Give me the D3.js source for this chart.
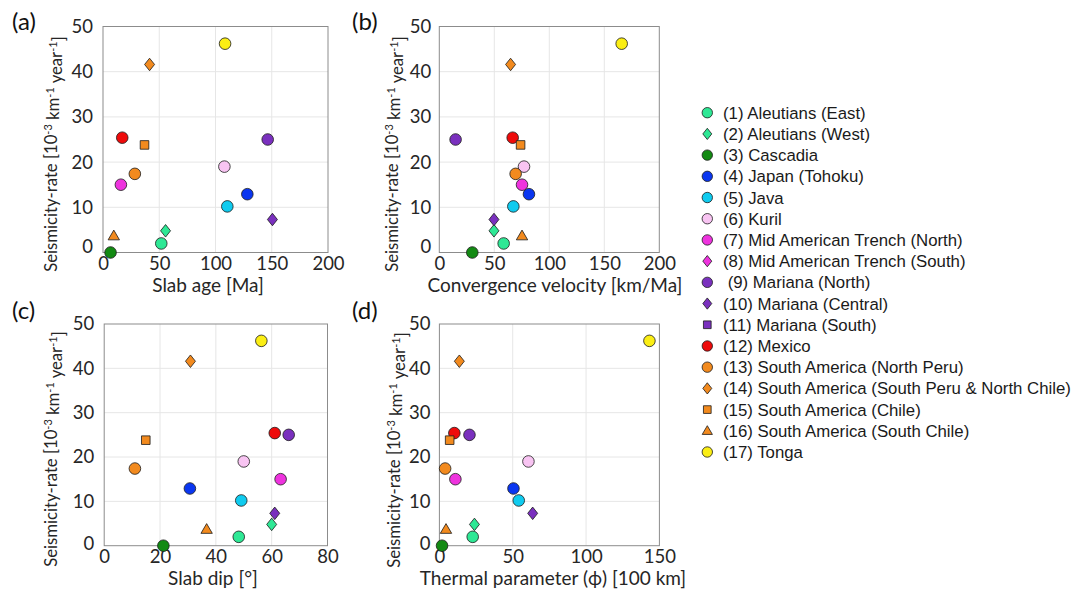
<!DOCTYPE html>
<html><head><meta charset="utf-8">
<script src="https://cdn.jsdelivr.net/npm/d3@7"></script>
<style>
body{margin:0;background:#fff;}
svg{display:block;}
</style></head>
<body>
<svg id="chart" width="1087" height="594"></svg>
<script>
// ---------------- DATA ----------------
const regions = ["(1) Aleutians (East)","(2) Aleutians (West)","(3) Cascadia","(4) Japan (Tohoku)","(5) Java","(6) Kuril",
 "(7) Mid American Trench (North)","(8) Mid American Trench (South)"," (9) Mariana (North)","(10) Mariana (Central)",
 "(11) Mariana (South)","(12) Mexico","(13) South America (North Peru)","(14) South America (South Peru & North Chile)",
 "(15) South America (Chile)","(16) South America (South Chile)","(17) Tonga"];
const shapes = ["circle","diamond","circle","circle","circle","circle","circle","diamond","circle","diamond",
 "square","circle","circle","diamond","square","triangle","circle"];
const colors = ["#2ee895","#2ee895","#138a13","#0a36f0","#0fcbef","#f8c4f2","#ee33de","#ee33de","#7a30be","#7a30be",
 "#7a30be","#ee0b0b","#f28a1e","#f28a1e","#f28a1e","#f28a1e","#fbee14"];
// seismicity rate [1e-3 km^-1 yr^-1]; null = not plotted
const seismicityRate = [2.0,4.8,0.0,12.9,10.2,19.0,15.0,null,25.0,7.3,null,25.4,17.4,41.6,23.8,3.7,46.2];
const slabAge        = [51.8,55.6,6.7,128.3,110.5,107.9,15.9,null,146.4,150.6,null,17.1,28.3,41.4,36.9,9.6,108.5];
const convVelocity   = [58.5,49.7,30.0,81.5,67.3,77.0,75.2,null,14.8,49.7,null,66.7,69.4,64.8,73.9,75.2,165.8];
const slabDip        = [48.2,60.0,21.2,30.7,49.1,50.0,63.2,null,66.1,61.1,null,61.1,11.0,30.9,14.9,36.7,56.3];
const thermalParam   = [22.7,23.9,1.8,50.5,54.1,60.7,10.9,null,20.5,63.6,null,10.2,3.9,13.6,7.0,4.5,143.2];

const yTicks = [0,10,20,30,40,50];
const slabAgeTicks = [0,50,100,150,200];
const convTicks = [0,50,100,150,200];
const dipTicks = [0,20,40,60,80];
const thermalTicks = [0,50,100,150];

// ---------------- LAYOUT ----------------
const svg = d3.select("#chart");
const tickFont = "Lato, 'Open Sans', sans-serif";
const panels = [
  {tag:"(a)", xv:slabAge, ticks:slabAgeTicks, xd:[0,200], xr:[103,328], yr:[252.5,26.5], xlabel:"Slab age [Ma]",
   xlx:208, tagx:12, tagy:30, ylx:51, yly:154, zeroShift:6, ypad:10},
  {tag:"(b)", xv:convVelocity, ticks:convTicks, xd:[0,200], xr:[439.3,659.3], yr:[252.5,26.5], xlabel:"Convergence velocity [km/Ma]",
   xlx:555, tagx:352, tagy:30, ylx:392, yly:154, zeroShift:6, ypad:8},
  {tag:"(c)", xv:slabDip, ticks:dipTicks, xd:[0,80], xr:[104.2,327.5], yr:[545.7,324], xlabel:"Slab dip [°]",
   xlx:213, tagx:12, tagy:319, ylx:51, yly:449, zeroShift:2.5, ypad:10},
  {tag:"(d)", xv:thermalParam, ticks:thermalTicks, xd:[0,150], xr:[439.4,659.4], yr:[545.7,324], xlabel:"Thermal parameter (ϕ) [100 km]",
   xlx:553, tagx:352, tagy:319, ylx:394, yly:450, zeroShift:2.5, ypad:9}
];

function markerPath(shape, s){
  switch(shape){
    case "circle": return `M${-s},0A${s},${s} 0 1,0 ${s},0A${s},${s} 0 1,0 ${-s},0Z`;
    case "diamond": return `M0,${-s*1.08}L${s*0.86},0L0,${s*1.08}L${-s*0.86},0Z`;
    case "square": { const h=s*0.74; return `M${-h},${-h}H${h}V${h}H${-h}Z`; }
    case "triangle": return `M0,${-s*0.98}L${s*0.98},${s*0.7}L${-s*0.98},${s*0.7}Z`;
  }
}

panels.forEach(p=>{
  const x = d3.scaleLinear().domain(p.xd).range(p.xr);
  const y = d3.scaleLinear().domain([0,50]).range(p.yr);
  const g = svg.append("g");
  // grid
  g.selectAll(".gx").data(p.ticks.slice(1,-1)).join("line")
    .attr("x1",d=>x(d)).attr("x2",d=>x(d)).attr("y1",y(0)).attr("y2",y(50))
    .attr("stroke","#e6e6e6").attr("stroke-width",1);
  g.selectAll(".gy").data(yTicks.slice(1,-1)).join("line")
    .attr("x1",x(p.xd[0])).attr("x2",x(p.xd[1])).attr("y1",d=>y(d)).attr("y2",d=>y(d))
    .attr("stroke","#e6e6e6").attr("stroke-width",1);
  // box
  g.append("rect").attr("x",x(p.xd[0])).attr("y",y(50)).attr("width",x(p.xd[1])-x(p.xd[0])).attr("height",y(0)-y(50))
    .attr("fill","none").attr("stroke","#8c8c8c").attr("stroke-width",1);
  // x axis tick labels
  const xa = g.append("g").attr("transform",`translate(0,${y(0)})`)
    .call(d3.axisBottom(x).tickValues(p.ticks).tickSize(0).tickPadding(4).tickFormat(d3.format("d")));
  xa.select(".domain").remove();
  xa.selectAll("text").attr("font-family",tickFont).attr("font-size",18.5).attr("fill","#262626");
  // y axis tick labels
  const ya = g.append("g").attr("transform",`translate(${x(p.xd[0])},0)`)
    .call(d3.axisLeft(y).tickValues(yTicks).tickSize(0).tickPadding(p.ypad).tickFormat(d3.format("d")));
  ya.select(".domain").remove();
  ya.selectAll("text").attr("font-family",tickFont).attr("font-size",18.5).attr("fill","#262626")
    .attr("transform",d=> d===0 ? `translate(0,${-p.zeroShift})` : null);
  // x label
  g.append("text").attr("x",p.xlx).attr("y",y(0)+39.5).attr("text-anchor","middle")
    .attr("font-family",tickFont).attr("font-size",19).attr("fill","#262626").text(p.xlabel);
  // y label
  const yl = g.append("text").attr("transform",`translate(${p.ylx},${p.yly}) rotate(-90)`)
    .attr("text-anchor","middle").attr("dy","0.35em")
    .attr("font-family",tickFont).attr("font-size",16.7).attr("fill","#262626");
  yl.append("tspan").text("Seismicity-rate [10");
  yl.append("tspan").attr("dy","-0.45em").attr("font-size",11).text("-3");
  yl.append("tspan").attr("dy","0.45em").text(" km");
  yl.append("tspan").attr("dy","-0.45em").attr("font-size",11).text("-1");
  yl.append("tspan").attr("dy","0.45em").text(" year");
  yl.append("tspan").attr("dy","-0.45em").attr("font-size",11).text("-1");
  yl.append("tspan").attr("dy","0.45em").text("]");
  // panel tag
  svg.append("text").attr("x",p.tagx).attr("y",p.tagy).attr("font-family",tickFont).attr("font-size",24)
    .attr("fill","#111").text(p.tag);
  // points
  const idx = d3.range(regions.length).filter(i=>seismicityRate[i]!==null && p.xv[i]!==null);
  g.selectAll(".pt").data(idx).join("path")
    .attr("transform",i=>`translate(${x(p.xv[i])},${y(seismicityRate[i])})`)
    .attr("d",i=>markerPath(shapes[i],5.8))
    .attr("fill",i=>colors[i]).attr("stroke","#1a1a1a").attr("stroke-width",0.8);
});

// ---------------- LEGEND ----------------
const leg = svg.append("g");
const ly = d3.scaleLinear().domain([0,16]).range([112.7,452]);
regions.forEach((r,i)=>{
  leg.append("path").attr("transform",`translate(707.3,${ly(i)})`).attr("d",markerPath(shapes[i],5.2))
    .attr("fill",colors[i]).attr("stroke","#1a1a1a").attr("stroke-width",0.8);
  leg.append("text").attr("x",723).attr("y",ly(i)).attr("dy","0.36em")
    .attr("font-family","'Liberation Sans', Arial, sans-serif").attr("font-size",16.8).attr("fill","#1a1a1a")
    .attr("xml:space","preserve").style("white-space","pre").text(r);
});
</script>
</body></html>
